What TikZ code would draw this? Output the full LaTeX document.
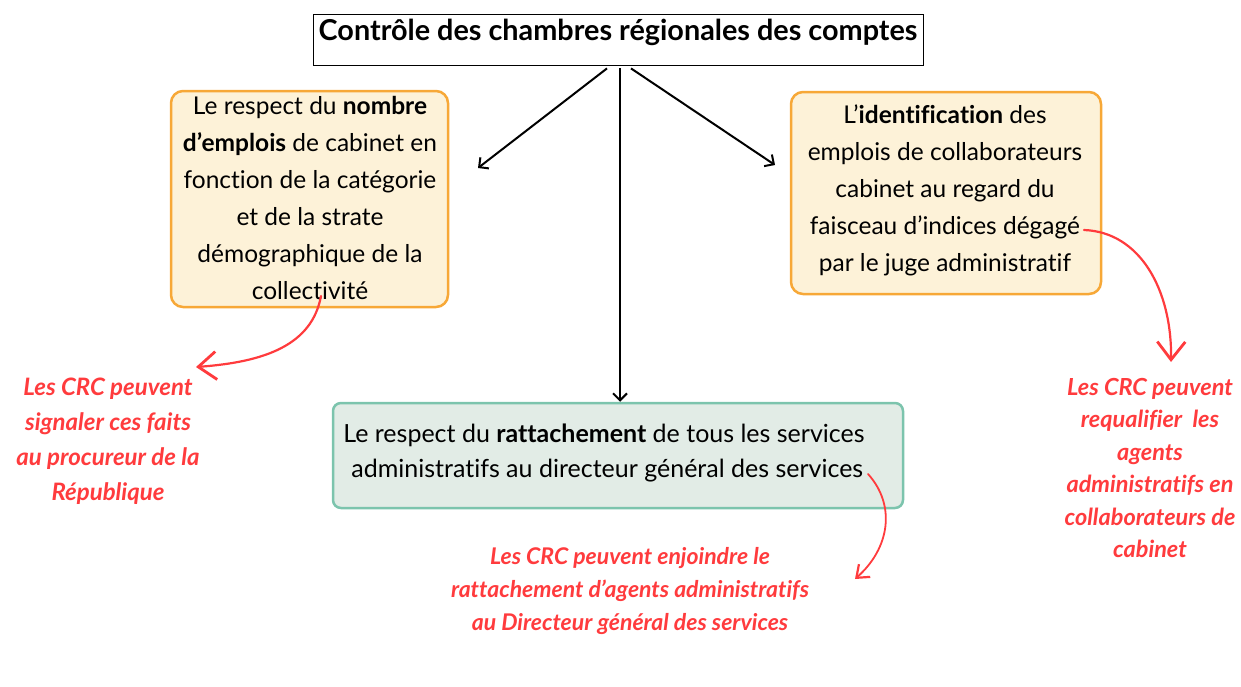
\documentclass[tikz,border=0pt]{standalone}
\usepackage{fontspec}
\setmainfont{Lato}[Ligatures=NoCommon]
\usetikzlibrary{arrows.meta}
\definecolor{cream}{HTML}{FDF2D8}
\definecolor{orangeb}{HTML}{F7A837}
\definecolor{greenf}{HTML}{E2ECE6}
\definecolor{greenb}{HTML}{7CC4AD}
\definecolor{crcred}{HTML}{FF3B3D}
\tikzset{
  x=1pt,y=-1pt,
  titlebox/.style={draw=black,line width=0.8pt,minimum width=610,minimum height=51,inner sep=0},
  yellowbox/.style={draw=orangeb,fill=cream,line width=2.5pt,rounded corners=12pt,inner sep=0},
  greenbox/.style={draw=greenb,fill=greenf,line width=2.5pt,rounded corners=8pt,inner sep=0},
  bodytext/.style={align=center,font=\fontsize{24.5}{37}\selectfont,inner sep=0},
  redtext/.style={align=center,text=crcred,font=\fontsize{24}{35}\selectfont\bfseries\itshape,inner sep=0},
  blackarrow/.style={line width=2pt,-{Straight Barb[length=7pt,width=14pt,line width=2pt]}},
  redarrow/.style={draw=crcred,line width=2.2pt,line cap=round,-{Straight Barb[length=18pt,width=28pt,line width=2.8pt]}},
  smallredarrow/.style={draw=crcred,line width=1.8pt,line cap=round,-{Straight Barb[length=11pt,width=17pt,line width=2.2pt]}}
}
\begin{document}
\begin{tikzpicture}
\useasboundingbox (0,0) rectangle (1241,686);
% title
\node[titlebox] (title) at (618,39.5) {};
\node[font=\fontsize{28.8}{32}\selectfont\bfseries,inner sep=0] (titletext) at (618,32) {Contrôle des chambres régionales des comptes};
% boxes
\node[yellowbox,minimum width=277,minimum height=216] (left) at (309.5,199) {};
\node[bodytext] (lefttext) at (310,198) {Le respect du \textbf{nombre}\\\textbf{d’emplois} de cabinet en\\fonction de la catégorie\\et de la strate\\démographique de la\\collectivité};
\node[yellowbox,minimum width=310,minimum height=202] (right) at (946,193) {};
\node[bodytext] (righttext) at (945,190) {L’\textbf{identification} des\\emplois de collaborateurs\\cabinet au regard du\\faisceau d’indices dégagé\\par le juge administratif};
\node[greenbox,minimum width=570,minimum height=105] (bottom) at (618,455.5) {};
\node[bodytext,align=left,font=\fontsize{25}{35}\selectfont] (bottomtext) at (604,453) {Le respect du \textbf{rattachement} de tous les services\\\hspace{8pt}administratifs au directeur général des services};
% red notes
\node[redtext] (lnote) at (108,441) {Les CRC peuvent\\signaler ces faits\\au procureur de la\\République};
\node[redtext,font=\fontsize{23.5}{32.4}\selectfont\bfseries\itshape] (rnote) at (1150,468) {Les CRC peuvent\\requalifier~ les\\agents\\administratifs en\\collaborateurs de\\cabinet};
\node[redtext,font=\fontsize{23}{33}\selectfont\bfseries\itshape] (bnote) at (630,591) {Les CRC peuvent enjoindre le\\rattachement d’agents administratifs\\au Directeur général des services};
% black arrows
\coordinate (aL) at (478,168);
\coordinate (aR) at (775,165);
\draw[blackarrow] ([xshift=-11pt,yshift=-3pt]title.south) -- (aL);
\draw[blackarrow] ([xshift=2pt,yshift=-3pt]title.south) -- (bottom.north -| 620,0);
\draw[blackarrow] ([xshift=13pt,yshift=-3pt]title.south) -- (aR);
% red arrows
\coordinate (rl0) at (321,296);
\coordinate (rl1) at (196,367);
\draw[redarrow] (rl0) .. controls (312,345) and (265,362) .. (rl1);
\coordinate (rr0) at (1084,230);
\coordinate (rr1) at (1171,362);
\draw[redarrow] (rr0) .. controls (1140,232) and (1172,290) .. (rr1);
\coordinate (rb0) at (868,474);
\coordinate (rb1) at (855,579);
\draw[smallredarrow] (rb0) .. controls (896,505) and (890,548) .. (rb1);
\end{tikzpicture}
\end{document}
